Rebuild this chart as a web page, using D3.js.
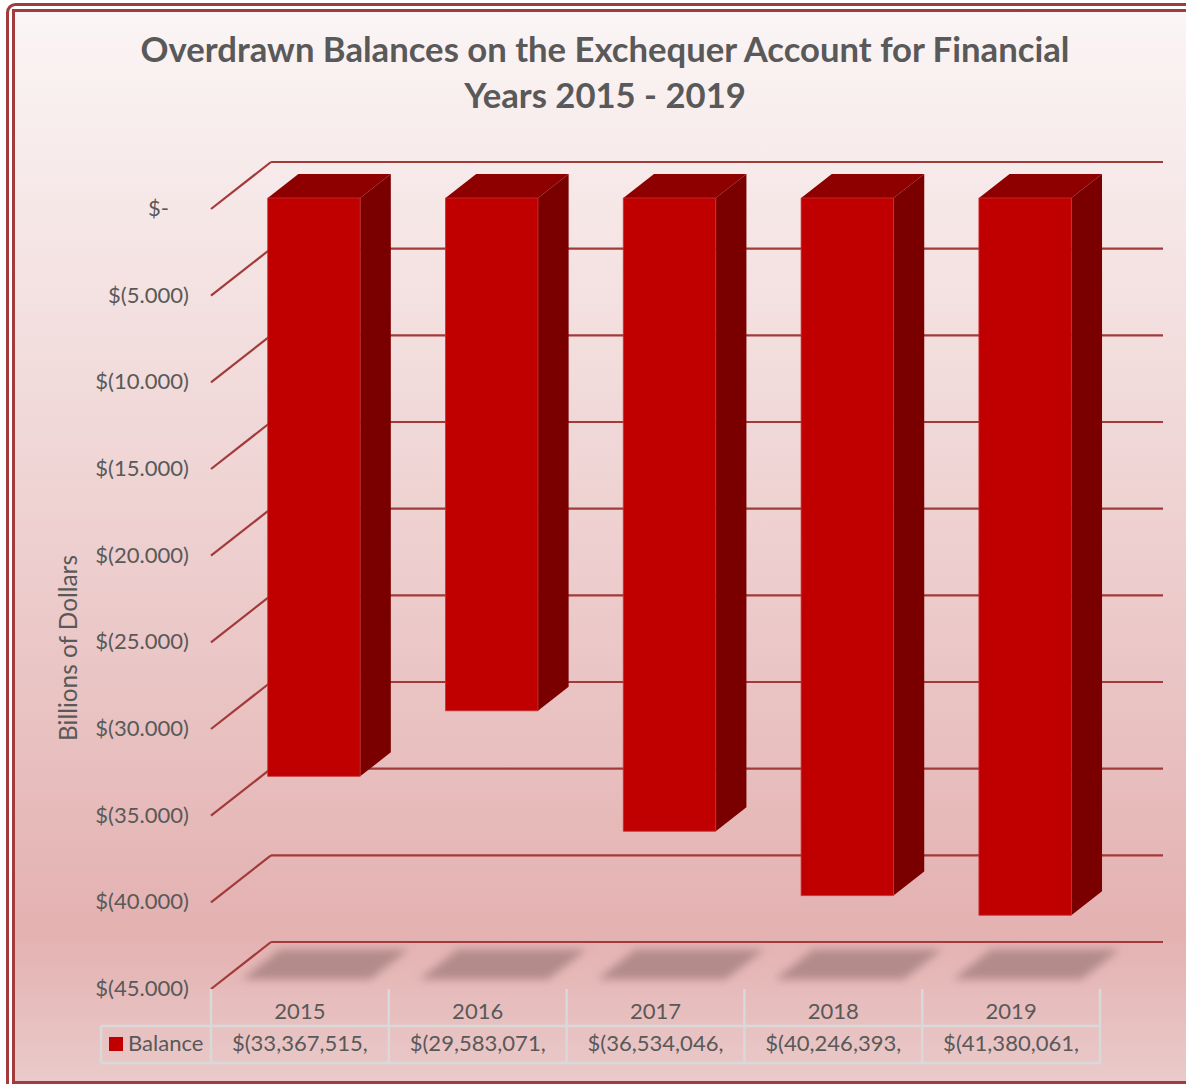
<!DOCTYPE html>
<html>
<head>
<meta charset="utf-8">
<script src="https://cdn.jsdelivr.net/npm/d3@7/dist/d3.min.js"></script>
<style>
  html, body { margin: 0; padding: 0; background: #ffffff; }
  svg { display: block; }
  text { font-family: Lato, "Open Sans", sans-serif; fill: #595959; }
</style>
</head>
<body>
<svg id="chart" width="1186" height="1084"></svg>
<script>
// ---- data ----
const years = ["2015", "2016", "2017", "2018", "2019"];
const balances = [-33.367515, -29.583071, -36.534046, -40.246393, -41.380061]; // billions of dollars
const tableLabels = ["$(33,367,515,", "$(29,583,071,", "$(36,534,046,", "$(40,246,393,", "$(41,380,061,"];
const yTicks = [0, -5, -10, -15, -20, -25, -30, -35, -40, -45];
const seriesName = "Balance";
const titleLines = ["Overdrawn Balances on the Exchequer Account for Financial", "Years 2015 - 2019"];
const yTitle = "Billions of Dollars";

// ---- layout ----
const W = 1186, H = 1084;
const svg = d3.select("#chart");
const defs = svg.append("defs");

const bg = defs.append("linearGradient").attr("id", "bg").attr("x1", 0).attr("y1", 0).attr("x2", 0).attr("y2", 1);
bg.append("stop").attr("offset", "0").attr("stop-color", "#fbf5f5");
bg.append("stop").attr("offset", "0.45").attr("stop-color", "#efd3d3");
bg.append("stop").attr("offset", "0.86").attr("stop-color", "#e4b1b1");
bg.append("stop").attr("offset", "1").attr("stop-color", "#eacaca");

const blur = defs.append("filter").attr("id", "blur").attr("x", "-20%").attr("y", "-60%").attr("width", "140%").attr("height", "220%");
blur.append("feGaussianBlur").attr("stdDeviation", 4.5);

// borders
svg.append("rect").attr("x", 7.5).attr("y", 4.5).attr("width", 1200).attr("height", 1100)
  .attr("rx", 8).attr("fill", "#ffffff").attr("stroke", "#a23c3c").attr("stroke-width", 3);
svg.append("rect").attr("x", 13.5).attr("y", 10.5).attr("width", 1200).attr("height", 1072)
  .attr("fill", "url(#bg)").attr("stroke", "#a23c3c").attr("stroke-width", 3);

// scales (front plane) + depth projection
const y = d3.scaleLinear().domain([-45, 0]).range([989, 209]);
const x = d3.scaleBand().domain(years).range([211, 1100]);
const DX = 60, DY = -47;
const P = (xf, v, t) => [xf + DX * t, y(v) + DY * t];
const gridColor = "#a33a3a";

// back wall gridlines + left wall diagonals
const grid = svg.append("g");
yTicks.forEach(v => {
  const [bx, by] = P(x.range()[0], v, 1);
  grid.append("line").attr("x1", bx).attr("y1", by).attr("x2", P(x.range()[1], v, 1)[0] + 3).attr("y2", by)
    .attr("stroke", gridColor).attr("stroke-width", 2.2);
  const [fx, fy] = P(x.range()[0], v, 0);
  grid.append("line").attr("x1", fx).attr("y1", fy).attr("x2", bx).attr("y2", by)
    .attr("stroke", gridColor).attr("stroke-width", 2.2);
});

// bar geometry
const t1 = 0.234, t2 = 0.745;
const barW = x.bandwidth() * 0.52;
const bars = years.map((yr, i) => ({ yr, v: balances[i], x0: x(yr) + (x.bandwidth() - barW) / 2 }));
const pts = arr => arr.map(p => p.join(",")).join(" ");

// floor shadows
svg.append("g").attr("filter", "url(#blur)").selectAll("polygon").data(bars).join("polygon")
  .attr("points", d => pts([
    P(d.x0 - 24, -45, 0.2), P(d.x0 + barW + 12, -45, 0.2),
    P(d.x0 + barW + 12, -45, 0.84), P(d.x0 - 24, -45, 0.84)
  ]))
  .attr("fill", "#ae8686").attr("opacity", 0.9);

// bars
const gb = svg.append("g");
bars.forEach(d => {
  const a = P(d.x0, 0, t1), b = P(d.x0 + barW, 0, t1), c = P(d.x0 + barW, d.v, t1), e = P(d.x0, d.v, t1);
  const b2 = P(d.x0 + barW, 0, t2), c2 = P(d.x0 + barW, d.v, t2), a2 = P(d.x0, 0, t2);
  gb.append("polygon").attr("points", pts([a, b, b2, a2])).attr("fill", "#8e0000");
  gb.append("polygon").attr("points", pts([b, b2, c2, c])).attr("fill", "#7a0000");
  gb.append("polygon").attr("points", pts([a, b, c, e])).attr("fill", "#c00000")
    .attr("stroke", "#c83030").attr("stroke-width", 0.8);
});

// helper: fit font size to a target width
function fit(sel, target) {
  const w = sel.node().getComputedTextLength();
  const fs = parseFloat(sel.attr("font-size"));
  sel.attr("font-size", fs * target / w);
}

// title
const t1s = svg.append("text").attr("x", 605).attr("y", 62).attr("text-anchor", "middle")
  .attr("font-size", 31).attr("font-weight", "bold").text(titleLines[0]);
fit(t1s, 929);
const t2s = svg.append("text").attr("x", 605).attr("y", 108).attr("text-anchor", "middle")
  .attr("font-size", t1s.attr("font-size")).attr("font-weight", "bold").text(titleLines[1]);

// y tick labels
const fmt = d3.format(".3f");
const tickG = svg.append("g");
let tickFS = 21;
yTicks.forEach(v => {
  const [fx, fy] = P(x.range()[0], v, 0);
  const lab = v === 0 ? "$-" : "$(" + fmt(-v) + ")";
  const t = tickG.append("text").attr("x", v === 0 ? fx - 42 : fx - 22).attr("y", fy + 7)
    .attr("text-anchor", "end").attr("font-size", tickFS).text(lab);
  if (v === -5) { fit(t, 81); tickFS = parseFloat(t.attr("font-size")); }
});
tickG.selectAll("text").attr("font-size", tickFS);

// y axis title
const yt = svg.append("text").attr("transform", "translate(77,648) rotate(-90)").attr("text-anchor", "middle")
  .attr("font-size", 22).text(yTitle);
fit(yt, 186);

// data table
const tableColor = "#d9d9d9";
const tg = svg.append("g");
const [tL, tR] = x.range();
const rowTop = 989, rowMid = 1026, rowBot = 1063, legL = 101;
x.domain().concat(["_end"]).forEach((k, i) => {
  const xx = k === "_end" ? tR : x(k);
  tg.append("line").attr("x1", xx).attr("x2", xx).attr("y1", rowTop).attr("y2", rowBot)
    .attr("stroke", tableColor).attr("stroke-width", 2.5);
});
[rowMid, rowBot].forEach(yy => tg.append("line").attr("x1", legL).attr("x2", tR).attr("y1", yy).attr("y2", yy)
  .attr("stroke", tableColor).attr("stroke-width", 2.5));
tg.append("line").attr("x1", legL).attr("x2", legL).attr("y1", rowMid).attr("y2", rowBot)
  .attr("stroke", tableColor).attr("stroke-width", 2.5);

years.forEach((yr, i) => {
  const cx = x(yr) + x.bandwidth() / 2;
  tg.append("text").attr("x", cx).attr("y", 1019).attr("text-anchor", "middle").attr("font-size", tickFS).text(yr);
  tg.append("text").attr("x", cx).attr("y", 1051).attr("text-anchor", "middle").attr("font-size", tickFS).text(tableLabels[i]);
});
tg.append("rect").attr("x", 109).attr("y", 1037).attr("width", 14).attr("height", 14).attr("fill", "#c00000");
tg.append("text").attr("x", 128).attr("y", 1051).attr("font-size", tickFS).text(seriesName);
</script>
</body>
</html>
